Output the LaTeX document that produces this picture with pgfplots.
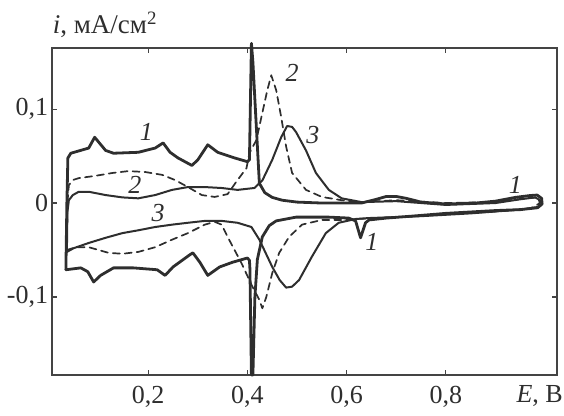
\documentclass[border=0pt]{standalone}
\usepackage{fontspec}
\setmainfont{Liberation Serif}
\usepackage{pgfplots}
\pgfplotsset{compat=1.18}
\definecolor{ink}{HTML}{2E2E2E}
\definecolor{frame}{HTML}{444444}
\begin{document}
\fontsize{26}{30}\selectfont
\begin{tikzpicture}
\begin{axis}[
  name=ax,
  scale only axis,
  width=505pt, height=327pt,
  xmin=0.006, xmax=1.024,
  ymin=-0.183, ymax=0.165,
  clip=false,
  axis line style={frame, line width=1.6pt},
  tick style={frame, line width=1.1pt},
  tick align=inside,
  major tick length=5pt,
  xtick={0.2,0.4,0.6,0.8},
  xticklabels={{0,2},{0,4},{0,6},{0,8}},
  ytick={-0.1,0,0.1},
  yticklabels={{-0,1},{0},{0,1}},
  xtick pos=both, ytick pos=both,
  xticklabel pos=bottom, yticklabel pos=left,
  tick label style={font=\fontsize{26}{30}\selectfont, text=ink},
  xticklabel style={yshift=-2pt},
  yticklabel style={xshift=5pt},
  every axis plot/.append style={line join=round, line cap=round},
]
% Curve 1 (thick solid)
\addplot[ink, line width=2.8pt] coordinates {
(0.034,-0.071) (0.036,0.0) (0.038,0.048) (0.044,0.053) (0.08,0.0585) (0.092,0.070)
(0.114,0.056) (0.13,0.053) (0.18,0.054) (0.214,0.0585) (0.23,0.064) (0.244,0.054)
(0.26,0.048) (0.288,0.040) (0.30,0.046) (0.32,0.062) (0.34,0.054) (0.374,0.048)
(0.40,0.044) (0.404,0.046) (0.408,0.170) (0.411,0.150) (0.417,0.09) (0.424,0.021)
(0.435,0.011) (0.45,0.006) (0.47,0.003) (0.5,0.001) (0.55,0.0) (0.63,0.0)
(0.66,0.004) (0.68,0.007) (0.70,0.007) (0.72,0.005) (0.75,0.001) (0.8,-0.001)
(0.86,0.0) (0.9,0.002) (0.94,0.006) (0.97,0.008) (0.984,0.0085) (0.993,0.005)
(0.994,-0.001) (0.985,-0.005) (0.95,-0.007) (0.9,-0.008) (0.85,-0.0095) (0.8,-0.011)
(0.73,-0.014) (0.68,-0.016) (0.645,-0.018) (0.638,-0.021) (0.628,-0.037) (0.618,-0.019)
(0.604,-0.016) (0.564,-0.015) (0.498,-0.015) (0.458,-0.019) (0.444,-0.024) (0.43,-0.036)
(0.42,-0.06) (0.415,-0.10) (0.411,-0.183) (0.408,-0.183) (0.405,-0.07) (0.404,-0.061)
(0.40,-0.0585) (0.37,-0.063) (0.344,-0.068) (0.32,-0.077) (0.304,-0.063) (0.29,-0.053)
(0.284,-0.055) (0.25,-0.068) (0.234,-0.077) (0.218,-0.071) (0.17,-0.069) (0.13,-0.069)
(0.104,-0.077) (0.09,-0.084) (0.078,-0.073) (0.064,-0.069) (0.034,-0.071)
};
% Curve 3 (medium solid)
\addplot[ink, line width=2.0pt] coordinates {
(0.036,-0.052) (0.037,-0.01) (0.04,0.003) (0.048,0.0085) (0.06,0.012) (0.08,0.012)
(0.114,0.0085) (0.148,0.006) (0.18,0.005) (0.214,0.0085) (0.248,0.014) (0.28,0.017)
(0.314,0.017) (0.348,0.016) (0.38,0.014) (0.414,0.016) (0.43,0.024) (0.45,0.046)
(0.468,0.070) (0.48,0.082) (0.49,0.081) (0.498,0.0755) (0.518,0.056) (0.538,0.032)
(0.564,0.014) (0.59,0.005) (0.63,0.001) (0.7,0.002) (0.8,-0.002) (0.9,0.0)
(0.95,0.004) (0.98,0.006) (0.99,0.003) (0.988,-0.004) (0.95,-0.007) (0.85,-0.011)
(0.75,-0.014) (0.644,-0.016) (0.618,-0.017) (0.584,-0.021) (0.558,-0.032) (0.53,-0.057)
(0.504,-0.082) (0.49,-0.089) (0.478,-0.090) (0.465,-0.082) (0.45,-0.068) (0.424,-0.039)
(0.408,-0.0255) (0.38,-0.021) (0.348,-0.019) (0.314,-0.019) (0.28,-0.021) (0.248,-0.023)
(0.214,-0.0255) (0.18,-0.029) (0.148,-0.032) (0.114,-0.037) (0.08,-0.0425) (0.05,-0.048)
(0.036,-0.052)
};
% Curve 2 (dashed)
\addplot[ink, line width=1.7pt, dash pattern=on 7pt off 5pt] coordinates {
(0.036,-0.05) (0.037,0.0) (0.04,0.019) (0.048,0.0245) (0.06,0.0265) (0.094,0.029)
(0.128,0.032) (0.16,0.034) (0.194,0.033) (0.228,0.030) (0.254,0.0245) (0.28,0.017)
(0.308,0.0085) (0.334,0.0065) (0.36,0.0095) (0.38,0.0245) (0.398,0.037) (0.404,0.053)
(0.418,0.067) (0.43,0.096) (0.44,0.120) (0.448,0.136) (0.458,0.120) (0.468,0.0915)
(0.478,0.060) (0.49,0.032) (0.518,0.014) (0.55,0.0065) (0.59,0.003) (0.63,0.001)
(0.7,0.003) (0.8,0.0) (0.9,0.001) (0.96,0.005) (0.985,0.006) (0.99,0.0)
(0.97,-0.006) (0.9,-0.009) (0.8,-0.012) (0.7,-0.015) (0.62,-0.017) (0.59,-0.018)
(0.55,-0.018) (0.51,-0.023) (0.484,-0.036) (0.464,-0.053) (0.45,-0.0745) (0.438,-0.100)
(0.43,-0.112) (0.424,-0.103) (0.41,-0.089) (0.388,-0.064) (0.374,-0.050) (0.36,-0.036)
(0.348,-0.023) (0.334,-0.020) (0.314,-0.023) (0.28,-0.032) (0.248,-0.039) (0.214,-0.047)
(0.18,-0.052) (0.148,-0.054) (0.12,-0.053) (0.10,-0.050) (0.08,-0.047) (0.054,-0.047)
(0.036,-0.05)
};
% curve labels
\node[text=ink] at (axis cs:0.196,0.076) {\textit{1}};
\node[text=ink] at (axis cs:0.173,0.019) {\textit{2}};
\node[text=ink] at (axis cs:0.22,-0.011) {\textit{3}};
\node[text=ink] at (axis cs:0.49,0.139) {\textit{2}};
\node[text=ink] at (axis cs:0.532,0.072) {\textit{3}};
\node[text=ink] at (axis cs:0.651,-0.041) {\textit{1}};
\node[text=ink] at (axis cs:0.94,0.019) {\textit{1}};
\end{axis}
\node[anchor=north east, text=ink, inner sep=0pt] at ([xshift=6pt,yshift=-10pt]ax.south east) {\textit{E}, В};
\node[anchor=base west, text=ink, font=\fontsize{27}{31}\selectfont] at ([xshift=-8pt,yshift=14pt]ax.north west) {\textit{i}, мА/см\textsuperscript{2}};
\pgfresetboundingbox
\path[use as bounding box] ([xshift=-52pt,yshift=-41pt]ax.south west) rectangle ([xshift=7pt,yshift=48pt]ax.north east);
\end{tikzpicture}
\end{document}
